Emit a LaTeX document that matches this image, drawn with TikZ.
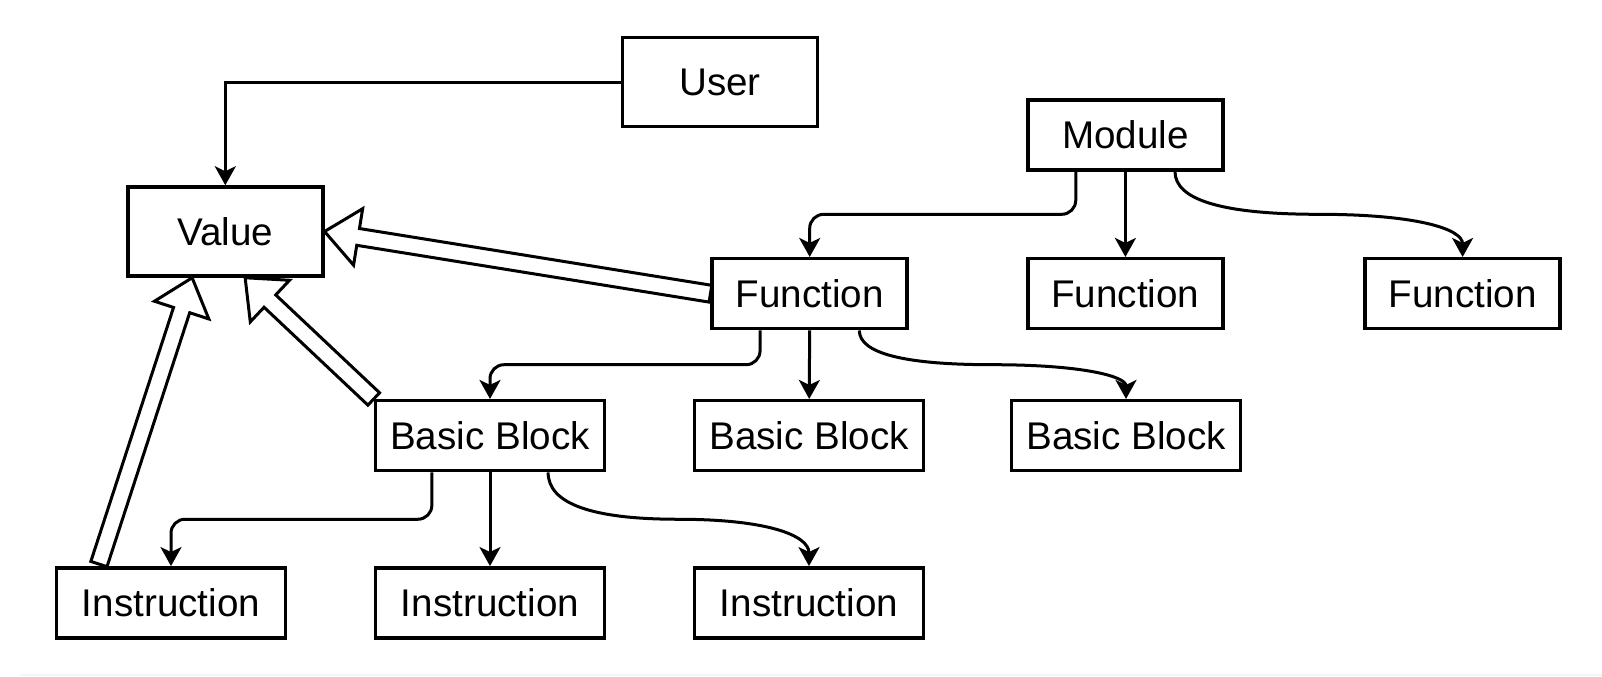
\documentclass[tikz,border=0pt]{standalone}
\usepackage{fontspec}
\setmainfont{Liberation Sans}
\usetikzlibrary{calc,arrows.meta}
\newcommand\myflex[2]{%
  \coordinate (fH) at ($(#2)!17pt!(#1)$);
  \draw[flex] ($(#1)!4.25pt!90:(#2)$) -- ($(fH)!4.25pt!90:(#2)$) -- ($(fH)!14.3pt!90:(#2)$) -- (#2) -- ($(fH)!14.3pt!-90:(#2)$) -- ($(fH)!4.25pt!-90:(#2)$) -- ($(#1)!4.25pt!-90:(#2)$) -- cycle;}
\begin{document}
\begin{tikzpicture}[x=0.5pt,y=-0.5pt,
  box/.style={draw=black, line width=1.75pt, fill=white, minimum width=97.5pt, minimum height=35pt, inner sep=0pt, font=\fontsize{19.3}{23}\selectfont},
  widebox/.style={box, minimum width=114.5pt},
  tallbox/.style={box, minimum height=44.5pt},
  conn/.style={draw=black, line width=1.5pt, -{Stealth[length=9.5pt,width=10.5pt,inset=2.5pt]}},
  flex/.style={draw=black, fill=white, line width=1.5pt, line join=miter},
]
\useasboundingbox (0,0) rectangle (1602,676);
\draw[gray!8, line width=0.6pt] (20,675) -- (1602,675);

\node[box,tallbox] (User) at (720,82.2) {User};
\node[box] (Module) at (1125.4,134.9) {Module};
\node[box,tallbox] (Value) at (225.3,231.5) {Value};
\node[box] (FuncA) at (809.7,293.7) {Function};
\node[box] (FuncB) at (1125.4,293.7) {Function};
\node[box] (FuncC) at (1462.6,293.7) {Function};
\node[box,widebox] (BBA) at (490,435.7) {Basic Block};
\node[box,widebox] (BBB) at (809.2,435.7) {Basic Block};
\node[box,widebox] (BBC) at (1126,435.7) {Basic Block};
\node[box,widebox] (InA) at (171,602.8) {Instruction};
\node[box,widebox] (InB) at (490,602.8) {Instruction};
\node[box,widebox] (InC) at (809,602.8) {Instruction};

% User -> Value
\draw[conn] (User.west) -| (Value.north);

% Module -> Functions
\coordinate (ma) at ($(Module.south west)!0.25!(Module.south east)$);
\coordinate (mc) at ($(Module.south west)!0.75!(Module.south east)$);
\coordinate (mam) at ($(ma)!0.5!(FuncA.north)$);
\draw[conn, rounded corners=7pt] (ma) -- (ma |- mam) -- (mam -| FuncA.north) -- (FuncA.north);
\draw[conn] (Module.south) -- (FuncB.north);
\coordinate (mcm) at ($(mc)!0.5!(FuncC.north)$);
\draw[conn] (mc) .. controls ($(mc)!0.6667!(mc |- mcm)$) and ($(mcm)!0.6667!(mc |- mcm)$) .. (mcm)
  .. controls ($(mcm)!0.6667!(FuncC.north |- mcm)$) and ($(FuncC.north)!0.6667!(FuncC.north |- mcm)$) .. (FuncC.north);

% Function -> Basic Blocks
\coordinate (fa) at ($(FuncA.south west)!0.25!(FuncA.south east)$);
\coordinate (fc) at ($(FuncA.south west)!0.75!(FuncA.south east)$);
\coordinate (fam) at ($(fa)!0.5!(BBA.north)$);
\draw[conn, rounded corners=7pt] (fa) -- (fa |- fam) -- (fam -| BBA.north) -- (BBA.north);
\draw[conn] (FuncA.south) -- (BBB.north);
\coordinate (fcm) at ($(fc)!0.5!(BBC.north)$);
\draw[conn] (fc) .. controls ($(fc)!0.6667!(fc |- fcm)$) and ($(fcm)!0.6667!(fc |- fcm)$) .. (fcm)
  .. controls ($(fcm)!0.6667!(BBC.north |- fcm)$) and ($(BBC.north)!0.6667!(BBC.north |- fcm)$) .. (BBC.north);

% Basic Block -> Instructions
\coordinate (ba) at ($(BBA.south west)!0.25!(BBA.south east)$);
\coordinate (bc) at ($(BBA.south west)!0.75!(BBA.south east)$);
\coordinate (bam) at ($(ba)!0.5!(InA.north)$);
\draw[conn, rounded corners=7pt] (ba) -- (ba |- bam) -- (bam -| InA.north) -- (InA.north);
\draw[conn] (BBA.south) -- (InB.north);
\coordinate (bcm) at ($(bc)!0.5!(InC.north)$);
\draw[conn] (bc) .. controls ($(bc)!0.6667!(bc |- bcm)$) and ($(bcm)!0.6667!(bc |- bcm)$) .. (bcm)
  .. controls ($(bcm)!0.6667!(InC.north |- bcm)$) and ($(InC.north)!0.6667!(InC.north |- bcm)$) .. (InC.north);

% hollow "is a" arrows to Value
\coordinate (vt2) at ($(Value.south west)!0.6!(Value.south east)$);
\coordinate (vt3) at ($(Value.south west)!0.333!(Value.south east)$);
\coordinate (ib) at ($(InA.north west)!0.19!(InA.north east)+(0,-2)$);
\myflex{FuncA.west}{Value.east}
\myflex{BBA.north west}{vt2}
\myflex{ib}{vt3}
\end{tikzpicture}
\end{document}
